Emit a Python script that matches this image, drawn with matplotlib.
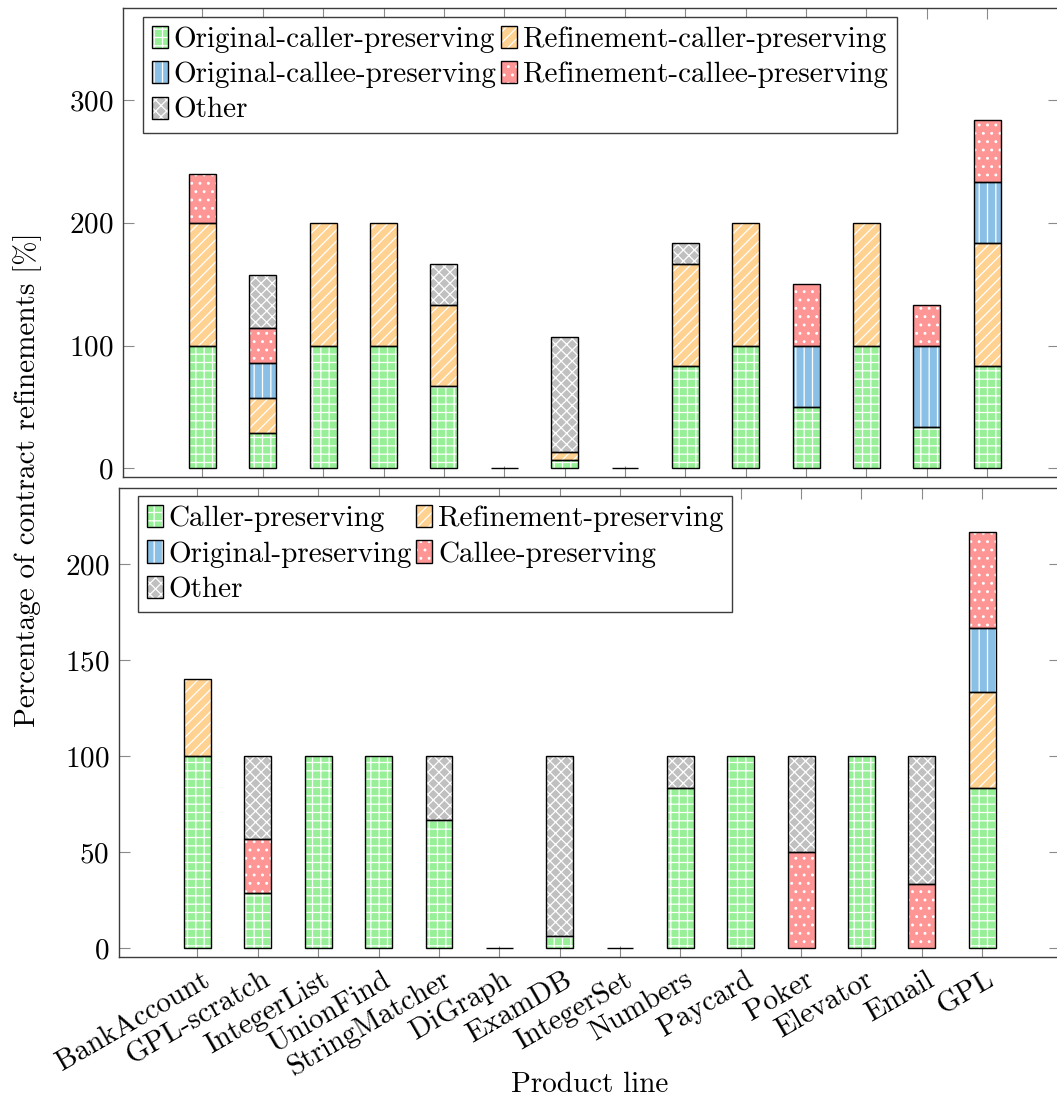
import matplotlib
matplotlib.use("Agg")
import matplotlib.pyplot as plt
import matplotlib.transforms as mtransforms
from matplotlib.patches import Patch
import numpy as np

products = ["BankAccount", "GPL-scratch", "IntegerList", "UnionFind", "StringMatcher",
            "DiGraph", "ExamDB", "IntegerSet", "Numbers", "Paycard", "Poker",
            "Elevator", "Email", "GPL"]

# refinements per kind (upper panel)
orig_caller = [100, 28.57, 100, 100, 66.67, 0, 6.67, 0, 83.33, 100, 50, 100, 33.33, 83.33]
ref_caller = [100, 28.57, 100, 100, 66.67, 0, 6.67, 0, 83.33, 100, 0, 100, 0, 100]
orig_callee = [0, 28.57, 0, 0, 0, 0, 0, 0, 0, 0, 50, 0, 66.67, 50]
ref_callee = [40, 28.57, 0, 0, 0, 0, 0, 0, 0, 0, 50, 0, 33.33, 50]
other_top = [0, 42.86, 0, 0, 33.33, 0, 93.33, 0, 16.67, 0, 0, 0, 0, 0]

# combined kinds (lower panel)
caller = [100, 28.57, 100, 100, 66.67, 0, 6.67, 0, 83.33, 100, 0, 100, 0, 83.33]
refinement = [40, 0, 0, 0, 0, 0, 0, 0, 0, 0, 0, 0, 0, 50]
original = [0, 0, 0, 0, 0, 0, 0, 0, 0, 0, 0, 0, 0, 33.33]
callee = [0, 28.57, 0, 0, 0, 0, 0, 0, 0, 0, 50, 0, 33.33, 50]
other_bot = [0, 42.86, 0, 0, 33.33, 0, 93.33, 0, 16.67, 0, 50, 0, 66.67, 0]

top_labels = ["Original-caller-preserving", "Refinement-caller-preserving",
              "Original-callee-preserving", "Refinement-callee-preserving", "Other"]
bot_labels = ["Caller-preserving", "Refinement-preserving", "Original-preserving",
              "Callee-preserving", "Other"]

colors = ["#97f097", "#ffd292", "#8abfe6", "#ff9696", "#c0c0c0"]
hatches = ["++", "///", "||", "..", "xxx"]

plt.rcParams["font.family"] = ["cmr10", "DejaVu Serif"]
plt.rcParams["axes.formatter.use_mathtext"] = True
plt.rcParams["font.size"] = 21
plt.rcParams["hatch.linewidth"] = 0.9

fig = plt.figure(figsize=(10.57, 11.03), dpi=100)
ax_top = fig.add_axes([0.1167, 0.5675, 0.8852, 0.4252])
ax_bot = fig.add_axes([0.1126, 0.1324, 0.8903, 0.4255])

x = np.arange(len(products))
width = 0.445


def stacked(ax, series, labels):
    series = [np.array(v, dtype=float) for v in series]
    total = np.sum(series, axis=0)
    bottoms = []
    base = np.zeros(len(x))
    for vals in series:
        bottoms.append(base.copy())
        base = base + vals
    # hatched fills first, outlines on top
    for vals, b, c, h in zip(series, bottoms, colors, hatches):
        ax.bar(x, vals, width, bottom=b, color=c, hatch=h, edgecolor="white",
               linewidth=0, zorder=2)
    for i, (vals, b) in enumerate(zip(series, bottoms)):
        # skip empty segments; empty products still get a flat bar at zero
        keep = (vals > 0) | ((i == 0) & (total == 0))
        ax.bar(x[keep], vals[keep], width, bottom=b[keep], fill=False,
               edgecolor="black", linewidth=1.0, zorder=3)
    handles = [(Patch(facecolor=c, hatch=h, edgecolor="white", linewidth=0),
                Patch(fill=False, edgecolor="black", linewidth=1.0))
               for c, h in zip(colors, hatches)]
    # row-wise order over two columns
    order = [0, 2, 4, 1, 3]
    return [handles[i] for i in order], [labels[i] for i in order]


def style(ax):
    ax.tick_params(direction="in", length=8, width=0.8, color="#8a8a8a",
                   top=True, right=True, pad=7)
    for s in ax.spines.values():
        s.set_color("#3c3c3c")
        s.set_linewidth(1.0)
    ax.set_xticks(x)


def add_legend(ax, h, l, anchor):
    leg = ax.legend(h, l, ncol=2, loc="upper left", bbox_to_anchor=anchor,
                    borderaxespad=0, fancybox=False, framealpha=1, edgecolor="#3c3c3c",
                    handlelength=0.55, handleheight=0.8, handletextpad=0.2,
                    columnspacing=0.15, labelspacing=0.28, borderpad=0.3)
    leg.get_frame().set_linewidth(1.0)


h, l = stacked(ax_top, [orig_caller, ref_caller, orig_callee, ref_callee, other_top], top_labels)
style(ax_top)
ax_top.set_xlim(-1.31, 14.19)
ax_top.set_ylim(-7.1, 374.9)
ax_top.set_yticks([0, 100, 200, 300])
ax_top.set_xticklabels([])
add_legend(ax_top, h, l, (0.021, 0.981))

h, l = stacked(ax_bot, [caller, refinement, original, callee, other_bot], bot_labels)
style(ax_bot)
ax_bot.set_xlim(-1.30, 14.29)
ax_bot.set_ylim(-4.5, 239.9)
ax_bot.set_yticks([0, 50, 100, 150, 200])
ax_bot.set_xticklabels(products, rotation=30, ha="right", va="top",
                       rotation_mode="anchor")
shift = mtransforms.ScaledTranslation(2.5 / 72, 0, fig.dpi_scale_trans)
for t in ax_bot.get_xticklabels():
    t.set_transform(t.get_transform() + shift)
add_legend(ax_bot, h, l, (0.020, 0.982))

fig.text(28 / 1057, 1 - 480 / 1103, "Percentage of contract refinements [%]",
         rotation=90, ha="center", va="center")
fig.text(590 / 1057, 1 - 1085 / 1103, "Product line", ha="center", va="center")

fig.savefig("out.png", dpi=100)
